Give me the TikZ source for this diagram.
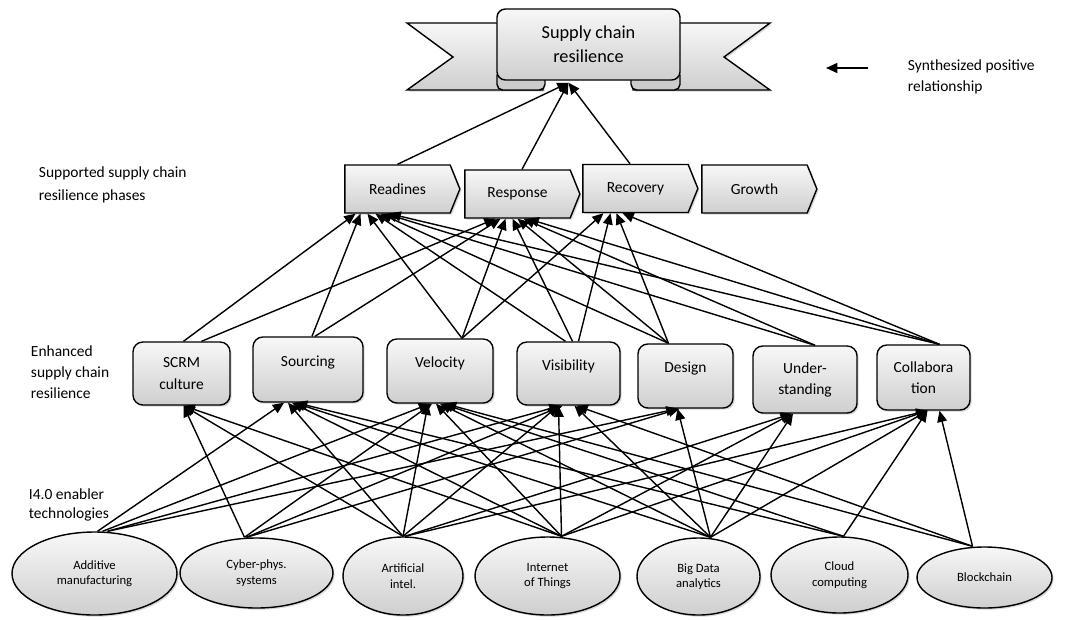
\documentclass[tikz,border=0pt]{standalone}
\usepackage{fontspec}
\setmainfont{Carlito}
\usetikzlibrary{calc, shapes.geometric, shapes.symbols, arrows.meta, shadows}

\tikzset{
    greyfill/.style={top color=gray!6, bottom color=gray!38},
    shadowed/.style={drop shadow={shadow xshift=1.2pt, shadow yshift=-1.2pt, opacity=0.3}},
    factor/.style 2 args={greyfill, shadowed, draw, line width=1pt, rounded corners=7pt,
        minimum width=#1*0.025cm, minimum height=#2*0.025cm},
    tech/.style 2 args={greyfill, shadowed, draw, line width=1pt, ellipse, inner sep=0pt,
        minimum width=#1*0.025cm, minimum height=#2*0.025cm, font=\fontsize{9}{11}\selectfont}
}

\begin{document}
\begin{tikzpicture}[x=0.025cm, y=-0.025cm,
    every node/.style={font=\fontsize{11}{15}\selectfont, align=center},
    phase/.style={greyfill, shadowed, draw, line width=1pt, signal, signal to=east, signal pointer angle=136,
        minimum width=2.875cm, minimum height=1.2cm},
    upper/.style={text depth=12pt},
    link/.style={-{Triangle[length=8pt,width=7pt]}, line width=1pt},
    sidelabel/.style={anchor=west, align=left}]

    \useasboundingbox (0,0) rectangle (1069,619);

    \draw[greyfill, shadowed, line width=1pt] (407,23) -- (543,23) -- (543,90) -- (407,90) -- (453,57) -- cycle;
    \draw[greyfill, shadowed, line width=1pt] (770,23) -- (633,23) -- (633,90) -- (770,90) -- (724,57) -- cycle;
    \draw[fill=gray!40, line width=1pt, rounded corners=4pt] (497,70) rectangle (545,90);
    \draw[fill=gray!40, line width=1pt, rounded corners=4pt] (631,70) rectangle (680,90);
    \node[greyfill, draw, line width=1pt, rounded corners=6pt, minimum width=4.575cm, minimum height=1.775cm,
        font=\fontsize{13}{17}\selectfont] (scr) at (588.5,44.5) {Supply chain\\resilience};
    \coordinate (scrin) at ($(scr.south)+(-20,2)$);

    \coordinate (lgA) at (868,68);
    \coordinate (lgB) at (826,68);
    \draw[-{Triangle[length=8pt,width=7pt]}, line width=1.3pt] (lgA) -- (lgB);
    \node[sidelabel] (legend) at (903,77) {Synthesized positive\\relationship};

    \node[sidelabel, font=\fontsize{11}{16.5}\selectfont] (lblphase) at (34,185) {Supported supply chain\\resilience phases};
    \node[sidelabel] (lblfactor) at (26,372) {Enhanced\\supply chain\\resilience};
    \node[sidelabel, font=\fontsize{11}{14}\selectfont] (lbltech) at (24,505) {I4.0 enabler\\technologies};

    \node[phase] (rea) at (397.5,189) {Readines};
    \node[phase] (rsp) at (517.5,194) {Response};
    \node[phase] (rec) at (635.5,188.5) {Recovery};
    \node[phase] (gro) at (754.5,189) {Growth};

    \node[factor={97}{63}] (scrm) at (181.5,373.5) {SCRM\\culture};
    \node[factor={110}{65}, upper] (src) at (308,369.5) {Sourcing};
    \node[factor={106}{64}, upper] (vel) at (440,371) {Velocity};
    \node[factor={103}{63}, upper] (vis) at (568.5,373.5) {Visibility};
    \node[factor={95}{64}, upper] (des) at (685.5,376) {Design};
    \node[factor={104}{67}] (und) at (805,379.5) {Under-\\standing};
    \node[factor={93}{65}] (col) at (923.5,377.5) {Collabora\\tion};

    \node[tech={165}{83}] (add) at (94.5,573.5) {Additive\\manufacturing};
    \node[tech={153}{70}] (cps) at (256.5,573) {Cyber-phys.\\systems};
    \node[tech={120}{78}] (ai) at (403,576) {Artificial\\intel.};
    \node[tech={145}{78}] (iot) at (547.5,576) {Internet\\of Things};
    \node[tech={123}{77}] (bda) at (698.5,576.5) {Big Data\\analytics};
    \node[tech={137}{76}] (cc) at (839.5,575) {Cloud\\computing};
    \node[tech={135}{61}] (bc) at (984.5,577.5) {Blockchain};

    \draw[link] (rea.north) -- (scrin);
    \draw[link] ($(rsp.north)+(4.5,0)$) -- (scrin);
    \draw[link] ($(rec.north)+(-5.5,0)$) -- (scrin);

    \foreach \s/\sx/\t/\tx in {scrm/2/rea/-42, scrm/20/rsp/-22,
        src/4/rea/-37, src/7/rsp/-17,
        vel/22/rea/-30, vel/22/rsp/-12, vel/22/rec/-32,
        vis/-3/rea/-22, vis/4/rsp/-5, vis/10/rec/-25,
        des/-17/rea/-17, des/-17/rsp/0, des/-17/rec/-19,
        und/10/rea/-12, und/10/rsp/6,
        col/16/rea/-8, col/16/rsp/10, col/16/rec/-13}
        \draw[link] ($(\s.north)+(\sx,0)$) -- ($(\t.south)+(\tx,0)$);

    \foreach \s/\sx/\t/\tx in {add/3/src/-24, add/8/vel/-10, add/13/vis/-8, add/13/des/-8,
        cps/-12/scrm/2, cps/-12/vel/-8, cps/-10/vis/-6, cps/-10/des/-6,
        ai/0/scrm/2, ai/0/src/-20, ai/0/vel/-12, ai/0/vis/-10, ai/2/und/-13, ai/2/col/4,
        iot/14/scrm/2, iot/14/src/-16, iot/14/vel/-4, iot/14/vis/-10, iot/14/und/-13, iot/14/col/4,
        bda/12/src/-14, bda/12/vel/0, bda/12/vis/6, bda/12/des/-8, bda/12/und/-12, bda/12/col/4,
        cc/4/src/-12, cc/4/vel/2, cc/4/col/4,
        bc/-12/vel/5, bc/-12/vis/8, bc/-12/col/16}
        \draw[link] ($(\s.north)+(\sx,0)$) -- ($(\t.south)+(\tx,0)$);
\end{tikzpicture}
\end{document}
